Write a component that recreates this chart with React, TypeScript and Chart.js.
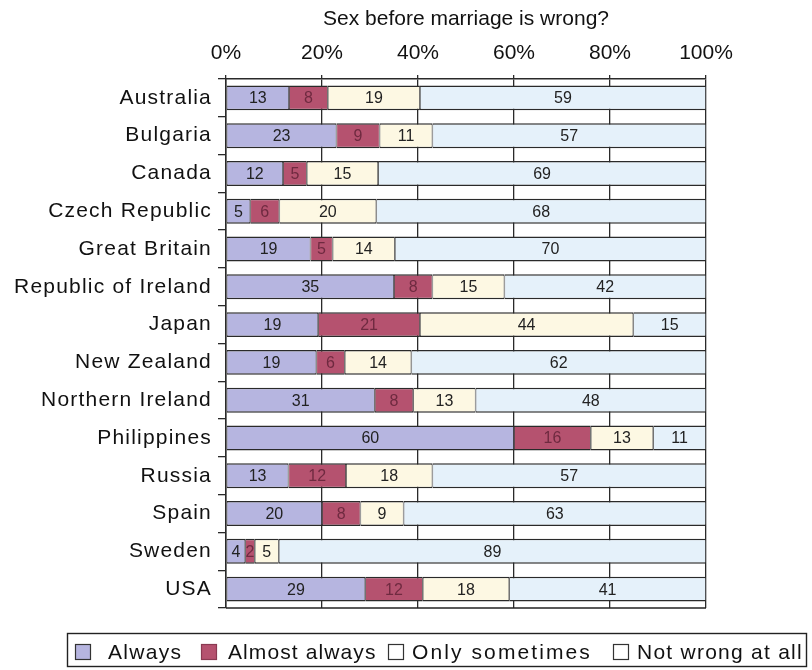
import React, { useEffect, useRef } from "react";
import { Chart, registerables, CategoryScale } from "chart.js";

Chart.register(...registerables);

class SpacedCategoryScale extends CategoryScale {
  drawLabels(chartArea: any) {
    const ctx: any = (this as any).ctx;
    ctx.save();
    ctx.letterSpacing = "1.2px";
    super.drawLabels(chartArea);
    ctx.restore();
  }
}
(SpacedCategoryScale as any).id = "spacedCategory";
(SpacedCategoryScale as any).defaults = (CategoryScale as any).defaults;
Chart.register(SpacedCategoryScale as any);

const countries = [
  "Australia",
  "Bulgaria",
  "Canada",
  "Czech Republic",
  "Great Britain",
  "Republic of Ireland",
  "Japan",
  "New Zealand",
  "Northern Ireland",
  "Philippines",
  "Russia",
  "Spain",
  "Sweden",
  "USA",
];

const always = [13, 23, 12, 5, 19, 35, 19, 19, 31, 60, 13, 20, 4, 29];
const almostAlways = [8, 9, 5, 6, 5, 8, 21, 6, 8, 16, 12, 8, 2, 12];
const onlySometimes = [19, 11, 15, 20, 14, 15, 44, 14, 13, 13, 18, 9, 5, 18];
const notWrongAtAll = [59, 57, 69, 68, 70, 42, 15, 62, 48, 11, 57, 63, 89, 41];

const xTicks = [0, 20, 40, 60, 80, 100];

const seriesNames = ["Always", "Almost always", "Only sometimes", "Not wrong at all"];
const seriesColors = ["#b6b5e0", "#b5526f", "#fdf8e3", "#e5f1fa"];
const legendIconColors = ["#b6b5e0", "#b5526f", "#ffffff", "#ffffff"];
const labelColors = ["#222222", "#6f2a40", "#222222", "#222222"];

const FONT = "'Liberation Sans', Arial, Helvetica, sans-serif";

const rawSeries = [always, almostAlways, onlySometimes, notWrongAtAll];
const rowTotals = countries.map((_, i) => rawSeries.reduce((s, arr) => s + arr[i], 0));

// legend layout (pixels)
const LEGEND_BOX = { left: 67.5, top: 633.5, width: 739, height: 33 };
const LEGEND_ICON_X = [75, 201, 388, 613];
const LEGEND_TEXT_X = [108, 228, 412, 637];
const LEGEND_SPACING = [1.3, 1.1, 2.1, 1.25];
const LEGEND_ICON_SIZE = 16;
const LEGEND_CY = 652;

const barLabelsPlugin = {
  id: "barLabels",
  afterDatasetsDraw(chart: any) {
    const ctx = chart.ctx;
    ctx.save();
    ctx.font = `16px ${FONT}`;
    ctx.textAlign = "center";
    ctx.textBaseline = "middle";
    chart.data.datasets.forEach((ds: any, di: number) => {
      const meta = chart.getDatasetMeta(di);
      meta.data.forEach((bar: any, i: number) => {
        const raw = ds.rawValues[i];
        const { x, base, y } = bar.getProps(["x", "base", "y"], true);
        ctx.fillStyle = labelColors[di];
        ctx.fillText(String(raw), (x + base) / 2, y + 1);
      });
    });
    ctx.restore();
  },
};

const frameAndLegendPlugin = {
  id: "frameAndLegend",
  afterDraw(chart: any) {
    const ctx = chart.ctx;
    const a = chart.chartArea;
    ctx.save();
    ctx.strokeStyle = "#222";
    ctx.lineWidth = 1.5;
    ctx.beginPath();
    ctx.moveTo(a.left, a.bottom);
    ctx.lineTo(a.right, a.bottom);
    ctx.stroke();

    // legend
    ctx.lineWidth = 1.4;
    ctx.strokeStyle = "#222";
    ctx.strokeRect(LEGEND_BOX.left, LEGEND_BOX.top, LEGEND_BOX.width, LEGEND_BOX.height);
    ctx.font = `21px ${FONT}`;
    ctx.textAlign = "left";
    ctx.textBaseline = "middle";
    seriesNames.forEach((name, i) => {
      const ix = LEGEND_ICON_X[i];
      const iy = LEGEND_CY - LEGEND_ICON_SIZE / 2;
      ctx.fillStyle = legendIconColors[i];
      ctx.fillRect(ix, iy, LEGEND_ICON_SIZE, LEGEND_ICON_SIZE);
      ctx.lineWidth = 1.2;
      ctx.strokeStyle = i === 1 ? "#8a3a52" : "#333";
      ctx.strokeRect(ix + 0.5, iy + 0.5, LEGEND_ICON_SIZE - 1, LEGEND_ICON_SIZE - 1);
      ctx.fillStyle = "#111";
      ctx.letterSpacing = `${LEGEND_SPACING[i]}px`;
      ctx.fillText(name, LEGEND_TEXT_X[i], LEGEND_CY + 1);
    });
    ctx.restore();
  },
};

export default function App() {
  const canvasRef = useRef<HTMLCanvasElement | null>(null);

  useEffect(() => {
    if (!canvasRef.current) return;
    const datasets = rawSeries.map((arr, si) => ({
      label: seriesNames[si],
      data: arr.map((v, i) => (v / rowTotals[i]) * 100),
      rawValues: arr,
      backgroundColor: seriesColors[si],
      borderColor: "#2a2a2a",
      borderWidth: { top: 1.5, bottom: 1.5, left: 0.8, right: 0.8 },
      borderSkipped: false,
      categoryPercentage: 1,
      barPercentage: 0.66,
    }));

    const chart = new Chart(canvasRef.current, {
      type: "bar",
      data: { labels: countries, datasets: datasets as any },
      plugins: [barLabelsPlugin, frameAndLegendPlugin],
      options: {
        indexAxis: "y",
        animation: false,
        responsive: false,
        maintainAspectRatio: false,
        layout: { padding: { left: 0, right: 106, top: 0, bottom: 62 } },
        plugins: {
          tooltip: { enabled: false },
          title: { display: false },
          legend: { display: false },
        },
        scales: {
          x: {
            position: "top",
            stacked: true,
            min: 0,
            max: 100,
            afterBuildTicks: (scale: any) => {
              scale.ticks = xTicks.map((v) => ({ value: v }));
            },
            afterFit: (scale: any) => {
              scale.height = 79;
            },
            ticks: {
              callback: (v: any) => `${v}%`,
              font: { family: FONT, size: 21 },
              color: "#111",
              padding: 9,
            },
            grid: { color: "#2a2a2a", lineWidth: 1.3, tickLength: 4 },
            border: { display: true, color: "#2a2a2a", width: 1.5 },
            title: {
              display: true,
              text: "Sex before marriage is wrong?",
              font: { family: FONT, size: 21 },
              color: "#111",
              padding: { top: 7, bottom: 4 },
            },
          },
          y: {
            type: "spacedCategory" as any,
            stacked: true,
            afterFit: (scale: any) => {
              scale.width = 226;
            },
            ticks: {
              font: { family: FONT, size: 21 },
              color: "#111",
              padding: 6,
            },
            grid: {
              offset: true,
              drawOnChartArea: false,
              color: "#2a2a2a",
              tickLength: 8,
              lineWidth: 1.3,
            },
            border: { display: true, color: "#2a2a2a", width: 1.5 },
          },
        },
      },
    });
    return () => chart.destroy();
  }, []);

  return (
    <div style={{ position: "fixed", left: 0, top: 0, width: 812, height: 670, background: "#fff" }}>
      <canvas ref={canvasRef} width={812} height={670} style={{ width: 812, height: 670 }} />
    </div>
  );
}
